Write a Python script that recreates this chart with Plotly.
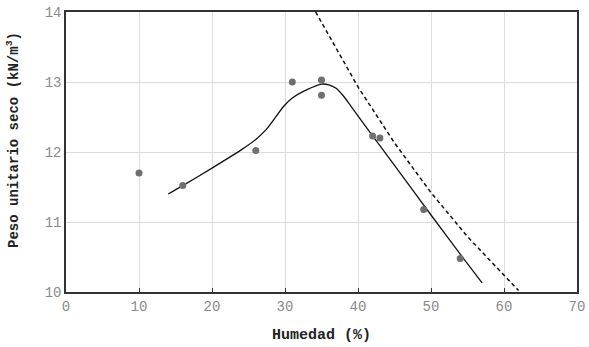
import plotly.graph_objects as go

# Measured points
humedad = [10, 16, 26, 31, 35, 35, 42, 43, 49, 54]
peso = [11.70, 11.52, 12.02, 13.00, 13.03, 12.81, 12.23, 12.20, 11.18, 10.48]

# Compaction curve (solid)
curva_x = [14, 16, 20, 24, 26, 27.5, 29.8, 31, 33, 35, 36, 37, 38, 39, 42, 45, 50, 54, 57]
curva_y = [11.40, 11.52, 11.77, 12.03, 12.18, 12.33, 12.65, 12.77, 12.89, 12.97, 12.96,
           12.91, 12.80, 12.66, 12.23, 11.81, 11.10, 10.54, 10.13]

# Zero air voids curve (dashed)
zav_x = [34.2, 40, 45, 50, 55, 60, 62]
zav_y = [14.0, 12.93, 12.13, 11.42, 10.79, 10.23, 10.02]

x_ticks = [0, 10, 20, 30, 40, 50, 60, 70]
y_ticks = [10, 11, 12, 13, 14]

fig = go.Figure()
fig.add_trace(go.Scatter(x=zav_x, y=zav_y, mode="lines",
                         line=dict(color="#111111", width=1.5, dash="4px,3px"),
                         showlegend=False, hoverinfo="skip"))
fig.add_trace(go.Scatter(x=curva_x, y=curva_y, mode="lines",
                         line=dict(color="#111111", width=1.3, shape="spline", smoothing=0.6),
                         showlegend=False))
fig.add_trace(go.Scatter(x=humedad, y=peso, mode="markers",
                         marker=dict(color="#6f6f6f", size=7),
                         showlegend=False))

tickfont = dict(family="Liberation Mono", size=14, color="#8a8a8a")
fig.update_xaxes(range=[0, 70], tickvals=x_ticks, showgrid=True, gridcolor="#dcdcdc",
                 gridwidth=1, zeroline=False, showline=True, linecolor="#333333",
                 linewidth=1.5, mirror=True, ticks="inside", ticklen=4,
                 tickcolor="#333333", tickfont=tickfont, automargin=False)
fig.update_yaxes(range=[10, 14], tickvals=y_ticks, showgrid=True, gridcolor="#dcdcdc",
                 gridwidth=1, zeroline=False, showline=True, linecolor="#333333",
                 linewidth=1.5, mirror=True, ticks="", tickfont=tickfont, automargin=False)

fig.update_layout(
    width=589, height=347, autosize=False,
    margin=dict(l=66, r=12, t=12, b=55),
    plot_bgcolor="white", paper_bgcolor="white",
    annotations=[
        dict(text="<b>Humedad (%)</b>", x=0.5, y=-0.118, xref="paper", yref="paper",
             xanchor="center", yanchor="top", showarrow=False,
             font=dict(family="Liberation Mono", size=15, color="#222222")),
        dict(text="<b>Peso unitario seco (kN/m<sup>3</sup>)</b>",
             x=-(66 - 13) / 511, y=(292 - 140) / 280,
             xref="paper", yref="paper", showarrow=False, textangle=-90,
             xanchor="center", yanchor="middle",
             font=dict(family="Liberation Mono", size=14, color="#222222")),
    ],
)
fig.write_html("out.html", config={"displayModeBar": False},
               post_script="document.body.style.margin='0';")
